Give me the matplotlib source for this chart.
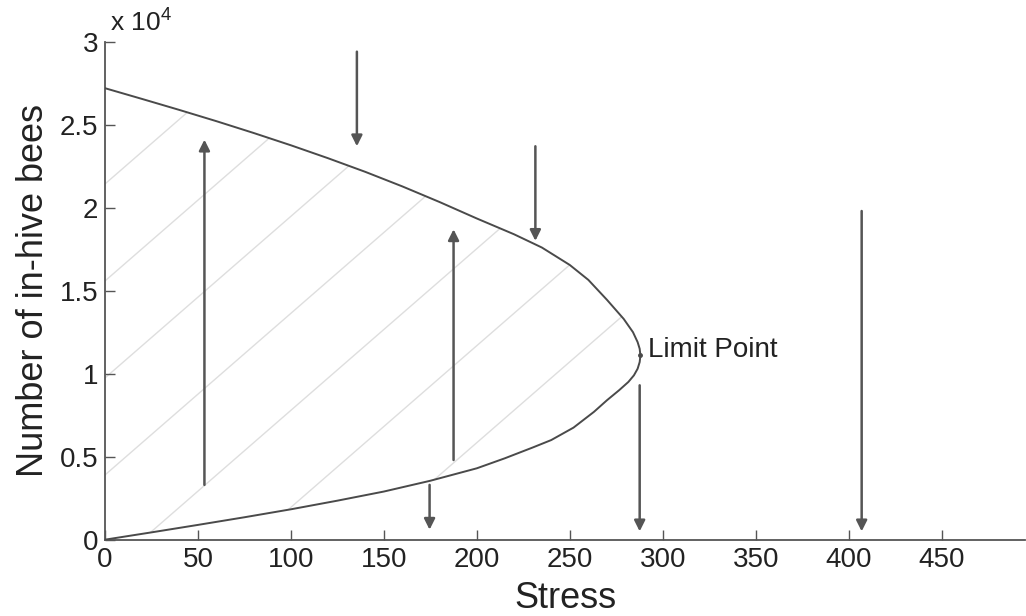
import numpy as np
import matplotlib.pyplot as plt
from matplotlib.patches import Polygon

plt.rcParams['font.family'] = ['Liberation Sans', 'DejaVu Sans']
plt.rcParams['mathtext.fontset'] = 'custom'
plt.rcParams['mathtext.rm'] = 'Liberation Sans'

# upper (stable) branch of the equilibrium curve, N in units of 1e4
stress_upper = [0, 20, 40, 60, 80, 100, 120, 140, 160, 180, 200, 220, 235, 250,
                260, 270, 279, 284, 286.5, 287.6, 288]
bees_upper = [2.72, 2.655, 2.589, 2.521, 2.450, 2.376, 2.298, 2.216, 2.128, 2.034,
              1.935, 1.84, 1.76, 1.655, 1.565, 1.445, 1.33, 1.25, 1.19, 1.15, 1.11]

# lower (unstable) branch
stress_lower = [0, 25, 50, 75, 100, 125, 150, 175, 200, 215, 230, 240, 252, 263,
                270, 276.5, 281.5, 284.5, 286.5, 287.6, 288]
bees_lower = [0, 0.044, 0.089, 0.135, 0.183, 0.235, 0.29, 0.355, 0.43, 0.49, 0.555,
              0.60, 0.675, 0.77, 0.84, 0.90, 0.95, 0.99, 1.03, 1.07, 1.11]

limit_point = (288, 1.11)

# arrows: (stress, start, end)
arrow_x = [53.5, 135.5, 187.5, 231.5, 174.6, 287.6, 407]
arrow_from = [0.33, 2.94, 0.48, 2.37, 0.33, 0.93, 1.98]
arrow_to = [2.41, 2.37, 1.87, 1.80, 0.06, 0.05, 0.05]

fig = plt.figure(figsize=(10.26, 6.16), dpi=100)
ax = fig.add_axes([0.1023, 0.1239, 0.897, 0.8084])

# closed region between the two branches
curve_x = stress_upper + stress_lower[::-1]
curve_y = bees_upper + bees_lower[::-1]
region = Polygon(np.column_stack([curve_x, curve_y]), closed=True,
                 facecolor='none', edgecolor='none')
ax.add_patch(region)

# faint diagonal shading lines inside the region
slope = 0.00974
xs = np.array([-10, 300])
for s0 in np.arange(-220, 290, 60):
    ln, = ax.plot(xs, slope * (xs - s0), color='#dedede', lw=1.0, zorder=1)
    ln.set_clip_path(region)

ax.plot(curve_x, curve_y, color='#4a4a4a', lw=1.4, zorder=3)
ax.plot(*limit_point, 'o', color='#4a4a4a', ms=2.5, zorder=3)
ax.text(limit_point[0] + 4, limit_point[1] + 0.03, 'Limit Point', fontsize=20,
        va='center', ha='left', color='#222222')

for x, y0, y1 in zip(arrow_x, arrow_from, arrow_to):
    ax.annotate('', xy=(x, y1), xytext=(x, y0),
                arrowprops=dict(arrowstyle='-|>', color='#555555', lw=1.8,
                                mutation_scale=16, shrinkA=0, shrinkB=0))

ax.set_xlim(0, 495)
ax.set_ylim(0, 3)
ax.set_xticks(np.arange(0, 451, 50))
ax.set_yticks([0, 0.5, 1, 1.5, 2, 2.5, 3])
ax.set_yticklabels(['0', '0.5', '1', '1.5', '2', '2.5', '3'])
ax.tick_params(direction='in', length=7, width=1, colors='#555555',
               labelcolor='#222222', labelsize=20, pad=5)
for side in ['top', 'right']:
    ax.spines[side].set_visible(False)
for side in ['left', 'bottom']:
    ax.spines[side].set_color('#555555')
    ax.spines[side].set_linewidth(1.3)

ax.set_xlabel('Stress', fontsize=26, color='#222222', labelpad=6)
ax.set_ylabel('Number of in-hive bees', fontsize=26, color='#222222', labelpad=6)
ax.text(0.005, 1.012, r'x 10$^{4}$', transform=ax.transAxes, fontsize=19,
        ha='left', va='bottom', color='#222222')

fig.savefig('out.png', dpi=100)
